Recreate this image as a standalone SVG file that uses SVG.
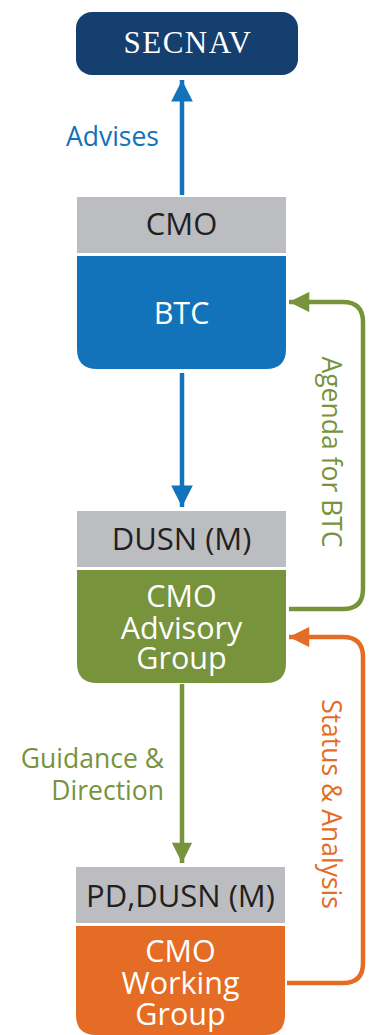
<svg xmlns="http://www.w3.org/2000/svg" width="370" height="1035" viewBox="0 0 370 1035">
<defs>
<style>
.t{font-family:"Open Sans","Noto Sans",sans-serif;}
.hdr{fill:#bcbdc0;}
.hdrt{font-size:31px;fill:#231f20;text-anchor:middle;}
.wt{font-size:30.5px;fill:#ffffff;text-anchor:middle;}
.lbl{font-size:26.5px;}
.blue{stroke:#1273bb;}
.green{stroke:#77933c;}
.orange{stroke:#e46c25;}
.ln{fill:none;stroke-width:4.5;}
</style>
<marker id="ab" viewBox="0 0 10 10" refX="10" refY="5" markerWidth="4.8" markerHeight="5.6" markerUnits="strokeWidth" orient="auto"><path d="M0,0 L10,5 L0,10 Z" fill="#1273bb"/></marker>
<marker id="ag" viewBox="0 0 10 10" refX="10" refY="5" markerWidth="6" markerHeight="4.5" markerUnits="strokeWidth" orient="auto"><path d="M0,0 L10,5 L0,10 Z" fill="#77933c"/></marker>
<marker id="ao" viewBox="0 0 10 10" refX="10" refY="5" markerWidth="6" markerHeight="4.5" markerUnits="strokeWidth" orient="auto"><path d="M0,0 L10,5 L0,10 Z" fill="#e46c25"/></marker>
</defs>

<g id="connectors">
<line class="ln blue" x1="182" y1="195" x2="182" y2="80" marker-end="url(#ab)"/>
<line class="ln blue" x1="182" y1="373" x2="182" y2="507" marker-end="url(#ab)"/>
<line class="ln green" x1="182" y1="684" x2="182" y2="863" marker-end="url(#ag)"/>
<path class="ln green" d="M289,609 H343 Q363,609 363,589 V322 Q363,302 343,302 H289" marker-end="url(#ag)"/>
<path class="ln orange" d="M287,983 H343 Q363,983 363,963 V657 Q363,637 343,637 H289" marker-end="url(#ao)"/>
<text class="t lbl" x="159" y="146" fill="#1273bb" text-anchor="end">Advises</text>
<text class="t lbl" fill="#77933c" text-anchor="end"><tspan x="164" y="768">Guidance &amp;</tspan><tspan x="164" y="800">Direction</tspan></text>
<text class="t lbl" fill="#77933c" text-anchor="middle" transform="translate(322,452) rotate(90)">Agenda for BTC</text>
<text class="t lbl" fill="#e46c25" text-anchor="middle" transform="translate(322,804) rotate(90)">Status &amp; Analysis</text>
</g>

<g id="secnav">
<rect x="76" y="12" width="222" height="63" rx="16" fill="#143f6f"/>
<text x="188" y="53" font-family="'Liberation Serif',serif" font-size="31" fill="#ffffff" text-anchor="middle" letter-spacing="1.5">SECNAV</text>
</g>

<g id="btc">
<rect class="hdr" x="77" y="197" width="209" height="56"/>
<text class="t hdrt" x="181.5" y="235">CMO</text>
<path d="M77,256 H286 V349 Q286,369 266,369 H97 Q77,369 77,349 Z" fill="#1273bb"/>
<text class="t wt" x="181.5" y="324">BTC</text>
</g>

<g id="advisory">
<rect class="hdr" x="77" y="511" width="209" height="56"/>
<text class="t hdrt" x="181.5" y="550">DUSN (M)</text>
<path d="M77,570 H286 V663 Q286,683 266,683 H97 Q77,683 77,663 Z" fill="#77933c"/>
<text class="t wt"><tspan x="181.5" y="607">CMO</tspan><tspan x="181.5" y="639">Advisory</tspan><tspan x="181.5" y="669">Group</tspan></text>
</g>

<g id="working">
<rect class="hdr" x="76" y="867" width="209" height="56"/>
<text class="t hdrt" x="180.5" y="907">PD,DUSN (M)</text>
<path d="M76,926 H285 V1015 Q285,1035 265,1035 H96 Q76,1035 76,1015 Z" fill="#e46c25"/>
<text class="t wt"><tspan x="180.5" y="962">CMO</tspan><tspan x="180.5" y="994">Working</tspan><tspan x="180.5" y="1025">Group</tspan></text>
</g>
</svg>
